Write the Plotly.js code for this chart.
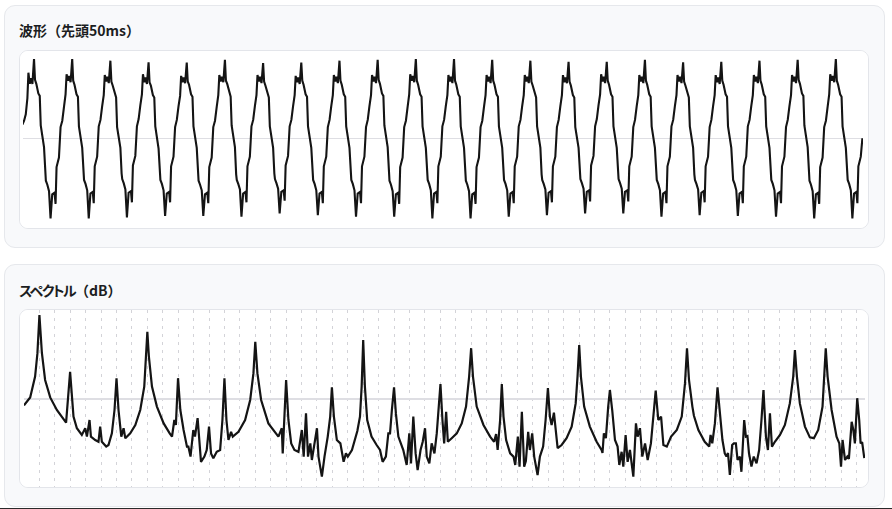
<!DOCTYPE html>
<html><head><meta charset="utf-8">
<script src="https://cdn.plot.ly/plotly-3.0.1.min.js"></script>
<style>
html,body{margin:0;padding:0;background:#fff;width:892px;height:509px;overflow:hidden;}
body{font-family:"Noto Sans CJK JP","Noto Sans",sans-serif;position:relative;}
.card{position:absolute;left:4px;width:881px;height:243px;background:#f8f9fb;border:1px solid #e6e8ec;border-radius:11px;box-sizing:border-box;}
.ttl{position:absolute;left:19px;font-size:14px;font-weight:700;color:#1b1d21;line-height:20px;white-space:nowrap;}
.kana{font-feature-settings:"palt" 1;letter-spacing:-1.6px;}
.box{position:absolute;left:19px;width:850px;height:179px;background:#fff;border:1px solid #e3e5ea;border-radius:9px;box-sizing:border-box;overflow:hidden;}
.plot{position:absolute;left:0;top:0;width:848px;height:177px;}
#bar{position:absolute;left:0;top:508px;width:892px;height:1px;background:#2a2a2a;}
</style></head>
<body>
<div class="card" style="top:5px"></div>
<div class="ttl" style="top:20px">波形（先頭50ms）</div>
<div class="box" style="top:50px"><div id="wave" class="plot"></div></div>
<div class="card" style="top:264px"></div>
<div class="ttl" style="top:280px"><span class="kana">スペクトル</span>（dB）</div>
<div class="box" style="top:309px"><div id="spec" class="plot"></div></div>
<div id="bar"></div>
<script>
// ---- waveform (first 50 ms), A4 = 440 Hz ----
const F0 = 440;                 // Hz
const WAVE_MS = 50;
const FIRST_CREST_MS = 0.656;   // time of first crest
// sample positions inside one period (fraction of period, from crest)
const phase = [0, 0.026, 0.060, 0.113, 0.150, 0.176, 0.262, 0.294, 0.310, 0.349, 0.393, 0.433,
               0.477, 0.538, 0.564, 0.590, 0.653, 0.695, 0.740, 0.784, 0.826, 0.853, 0.889, 0.916, 0.958];
// amplitude per cycle (row = one period, starting at the crest)
const waveCycles = [
 [null,null,null,null,null,null,null,null,null,null,null,null,null,null,null,null,null,0.17,0.22,0.30,0.50,0.82,0.68,0.75,0.68],
 [0.99,0.73,0.68,0.56,0.53,0.16,-0.11,-0.46,-0.53,-0.58,-0.66,-1.00,-0.70,-0.68,-0.82,-0.36,-0.24,0.14,0.22,0.39,0.55,0.80,0.72,0.78,0.70],
 [0.99,0.72,0.67,0.55,0.52,0.15,-0.12,-0.45,-0.52,-0.57,-0.65,-1.00,-0.69,-0.67,-0.81,-0.35,-0.23,0.15,0.23,0.40,0.54,0.79,0.71,0.77,0.69],
 [0.97,0.71,0.66,0.55,0.51,0.14,-0.12,-0.44,-0.51,-0.56,-0.64,-0.99,-0.68,-0.66,-0.80,-0.34,-0.22,0.15,0.24,0.41,0.55,0.80,0.70,0.76,0.68],
 [0.95,0.70,0.66,0.54,0.51,0.15,-0.13,-0.45,-0.52,-0.57,-0.65,-0.97,-0.69,-0.67,-0.80,-0.35,-0.23,0.14,0.23,0.40,0.53,0.78,0.70,0.76,0.69],
 [0.945,0.71,0.67,0.55,0.52,0.15,-0.12,-0.46,-0.53,-0.58,-0.65,-0.97,-0.70,-0.68,-0.81,-0.36,-0.24,0.14,0.22,0.39,0.54,0.79,0.71,0.77,0.70],
 [0.98,0.72,0.68,0.56,0.52,0.16,-0.11,-0.45,-0.52,-0.57,-0.64,-0.98,-0.69,-0.67,-0.80,-0.35,-0.23,0.15,0.23,0.40,0.54,0.79,0.71,0.77,0.69],
 [0.94,0.71,0.66,0.55,0.51,0.15,-0.12,-0.44,-0.51,-0.56,-0.63,-0.94,-0.67,-0.65,-0.78,-0.34,-0.22,0.15,0.23,0.40,0.54,0.78,0.70,0.76,0.68],
 [0.945,0.72,0.67,0.55,0.52,0.15,-0.12,-0.45,-0.52,-0.57,-0.65,-0.96,-0.69,-0.67,-0.81,-0.35,-0.23,0.14,0.23,0.40,0.54,0.79,0.71,0.77,0.69],
 [0.97,0.72,0.67,0.55,0.52,0.15,-0.12,-0.45,-0.52,-0.57,-0.65,-0.98,-0.69,-0.67,-0.81,-0.35,-0.23,0.14,0.23,0.40,0.54,0.79,0.71,0.77,0.69],
 [0.98,0.73,0.68,0.56,0.53,0.16,-0.11,-0.46,-0.53,-0.58,-0.66,-0.98,-0.70,-0.68,-0.82,-0.36,-0.24,0.14,0.22,0.39,0.55,0.80,0.72,0.78,0.70],
 [0.99,0.72,0.67,0.55,0.52,0.15,-0.12,-0.45,-0.52,-0.57,-0.65,-1.00,-0.69,-0.67,-0.81,-0.35,-0.23,0.15,0.23,0.40,0.54,0.79,0.71,0.77,0.69],
 [0.99,0.72,0.67,0.55,0.52,0.15,-0.12,-0.46,-0.53,-0.58,-0.66,-1.00,-0.70,-0.68,-0.82,-0.36,-0.24,0.14,0.22,0.39,0.54,0.79,0.71,0.77,0.69],
 [0.98,0.72,0.67,0.55,0.52,0.15,-0.12,-0.45,-0.52,-0.57,-0.65,-0.98,-0.69,-0.67,-0.81,-0.35,-0.23,0.15,0.23,0.40,0.54,0.79,0.71,0.77,0.69],
 [0.97,0.71,0.66,0.55,0.51,0.15,-0.12,-0.45,-0.52,-0.57,-0.64,-0.96,-0.68,-0.66,-0.80,-0.35,-0.23,0.14,0.23,0.40,0.54,0.79,0.70,0.76,0.69],
 [0.955,0.71,0.66,0.54,0.51,0.14,-0.12,-0.44,-0.51,-0.56,-0.63,-0.94,-0.67,-0.65,-0.79,-0.34,-0.22,0.15,0.24,0.41,0.55,0.80,0.71,0.77,0.69],
 [0.955,0.72,0.67,0.55,0.52,0.15,-0.12,-0.44,-0.51,-0.56,-0.63,-0.94,-0.67,-0.65,-0.79,-0.35,-0.23,0.14,0.23,0.40,0.54,0.79,0.71,0.77,0.69],
 [0.98,0.72,0.67,0.55,0.52,0.15,-0.12,-0.45,-0.52,-0.57,-0.65,-0.98,-0.69,-0.67,-0.81,-0.35,-0.23,0.15,0.23,0.40,0.54,0.79,0.71,0.77,0.69],
 [0.95,0.71,0.66,0.55,0.51,0.15,-0.12,-0.45,-0.52,-0.57,-0.64,-0.96,-0.68,-0.66,-0.80,-0.35,-0.23,0.14,0.23,0.40,0.54,0.79,0.70,0.76,0.68],
 [0.955,0.72,0.67,0.55,0.52,0.15,-0.12,-0.45,-0.52,-0.57,-0.65,-0.97,-0.69,-0.67,-0.81,-0.35,-0.23,0.15,0.23,0.40,0.54,0.79,0.71,0.77,0.69],
 [0.97,0.72,0.67,0.55,0.52,0.15,-0.12,-0.45,-0.52,-0.57,-0.65,-0.98,-0.69,-0.67,-0.81,-0.35,-0.23,0.14,0.23,0.40,0.54,0.79,0.71,0.77,0.69],
 [0.98,0.73,0.68,0.56,0.53,0.16,-0.11,-0.46,-0.53,-0.58,-0.66,-1.00,-0.70,-0.68,-0.82,-0.36,-0.24,0.14,0.22,0.39,0.55,0.80,0.72,0.78,0.70],
 [0.99,0.72,0.67,0.55,0.52,0.15,-0.12,-0.45,-0.52,-0.57,-0.65,-1.00,-0.69,-0.67,-0.81,-0.35,-0.23,0.00,null,null,null,null,null,null,null]
];

// ---- spectrum (dB), x in multiples of f0 (0 .. 24 kHz) ----
const SPEC_MAX_HARM = 24000 / F0;
// dashed markers at each harmonic of f0
const harmonicMarks = [1,2,3,4,5,6,7,8,9,10,11,12,13,14,15,16,17,18,19,20,21,22,23,24,25,26,27,
                       28,29,30,31,32,33,34,35,36,37,38,39,40,41,42,43,44,45,46,47,48,49,50,51,52,53,54];
const spectrum = [
 [0.0,-1.6],[0.40,0.4],[0.72,5.6],[0.87,11.4],[1.0,21],[1.16,11.5],[1.37,4.75],[1.70,0.4],[2.13,-2.75],[2.67,-5.7],[2.73,-5.9],
 [2.99,6.8],[3.10,0.6],[3.21,-4.4],[3.43,-7.3],[3.75,-9],[3.97,-7.3],[4.08,-9.4],[4.25,-5.25],[4.34,-9.4],[4.62,-10.25],[4.83,-10.7],
 [4.94,-6.9],[5.05,-10.7],[5.33,-11.9],[5.48,-11.5],[5.70,-8.6],[5.87,-2.75],[6.0,5.2],[6.13,-2.75],[6.31,-9.4],[6.46,-7.3],[6.57,-9.8],
 [6.89,-8.6],[7.22,-6.5],[7.54,-2.75],[7.80,3.1],[7.93,10.6],[8.0,16.8],[8.1,10.6],[8.30,3.1],[8.62,-1.9],[9.06,-6.1],[9.45,-8.6],
 [9.60,-9.4],[9.75,-5.25],[9.85,-6.5],[9.99,5.2],[10.14,-2.75],[10.35,-7.75],[10.57,-11.9],[10.66,-11.9],[10.8,-14.4],[10.98,-7.75],
 [11.09,-9.4],[11.26,-4.8],[11.37,-11.1],[11.48,-15.7],[11.70,-14.4],[11.85,-12.75],[12.0,-6.9],[12.13,-13.6],[12.28,-14.8],[12.50,-13.2],
 [12.72,-12.75],[12.87,-5.25],[13.0,5.2],[13.13,-5.25],[13.26,-10.25],[13.43,-8.2],[13.54,-9.4],[13.91,-8.2],[14.34,-5.25],[14.67,-0.25],
 [14.88,6.4],[15.0,14.3],[15.14,6.4],[15.38,-0.25],[15.85,-6.1],[16.50,-9.4],[16.72,-7.3],[16.78,-13.6],[17.0,4.75],[17.15,-5.25],
 [17.33,-11.1],[17.54,-12.75],[17.80,-13.2],[18.02,-7.75],[18.14,-14.4],[18.29,-3.6],[18.42,-14.4],[18.57,-11.1],[18.67,-15.25],[19.0,-7.3],
 [19.10,-14.4],[19.32,-19.4],[19.49,-14.4],[19.70,-9.4],[19.86,-4.4],[19.97,2.9],[20.1,-4.4],[20.29,-10.25],[20.52,-11.1],[20.73,-15.7],
 [20.88,-13.6],[21.0,-14.4],[21.27,-12.75],[21.49,-9.4],[21.62,-8.0],[21.79,-4.4],[21.90,3.1],[22.0,14.75],[22.11,3.1],[22.26,-5.25],
 [22.54,-9.4],[22.87,-11.5],[23.09,-12.75],[23.26,-15.7],[23.47,-14.4],[23.63,-8.6],[23.74,-8.6],[23.86,-2.75],[24.0,2.9],[24.12,-3.6],
 [24.28,-9.4],[24.6,-12.75],[24.82,-16.5],[24.99,-8.6],[25.1,-16.1],[25.25,-4.4],[25.4,-13.6],[25.53,-17.75],[25.72,-12.75],[25.86,-10.7],
 [26.01,-7.3],[26.12,-14.4],[26.29,-16.1],[26.44,-11.1],[26.62,-13.6],[26.77,-8.6],[26.88,-2.75],[27.01,3.75],[27.14,-5.25],[27.25,-11.1],
 [27.38,-3.2],[27.49,-10.7],[27.74,-9.8],[28.07,-8.6],[28.39,-6.1],[28.67,-1.9],[28.87,5.6],[29.0,12.7],[29.12,5.6],[29.36,-1.9],
 [29.80,-6.5],[30.23,-9.4],[30.49,-10.7],[30.62,-8.75],[30.72,-12.75],[30.88,-5.25],[30.99,3.75],[31.1,-4.4],[31.27,-10.25],[31.53,-13.6],
 [31.75,-14.4],[31.86,-16.5],[32.03,-9.4],[32.14,-16.9],[32.29,-3.2],[32.44,-16.9],[32.55,-15.5],[32.7,-8.2],[32.81,-12.75],[32.96,-8.6],
 [33.09,-14.4],[33.31,-19],[33.46,-14.4],[33.67,-11.9],[33.83,-5.25],[33.98,2.7],[34.11,-4.4],[34.22,-6.5],[34.37,-3.4],[34.5,-9.4],
 [34.61,-12.3],[34.87,-11.5],[35.19,-9.8],[35.52,-6.9],[35.78,-1.1],[35.90,5.6],[36.01,13.5],[36.12,5.6],[36.33,-1.9],[36.7,-6.9],
 [37.14,-10.7],[37.46,-12.75],[37.52,-13.5],[37.61,-8.6],[37.74,-9.8],[37.89,-1.9],[38.0,2.25],[38.15,-2.75],[38.33,-10.25],[38.5,-11.9],
 [38.61,-16.5],[38.76,-13.2],[38.87,-16.9],[39.02,-9],[39.15,-15.7],[39.3,-12.75],[39.52,-19.4],[39.69,-6.1],[39.8,-9.4],[39.95,-7.3],
 [40.1,-14.4],[40.28,-11.1],[40.45,-15.25],[40.66,-11.1],[40.81,-4.4],[40.97,2.1],[41.14,-5.25],[41.32,-4.4],[41.47,-11.5],[41.69,-11.9],
 [41.97,-9.4],[42.34,-7.75],[42.66,-4.4],[42.87,3.9],[43.0,12.7],[43.13,4.75],[43.35,-1.9],[43.45,-4.2],[43.74,-7.75],[44.15,-10.7],
 [44.44,-11.9],[44.53,-9],[44.64,-11.1],[44.81,-6.1],[44.98,2.9],[45.14,-4.4],[45.3,-10.25],[45.45,-13.6],[45.56,-14.4],[45.66,-13.5],
 [45.78,-19],[45.93,-11.5],[46.04,-11.1],[46.17,-11.1],[46.28,-15.25],[46.43,-14.4],[46.53,-18.2],[46.71,-5.25],[46.82,-9.4],[46.92,-9.25],
 [47.02,-13.5],[47.18,-16.9],[47.33,-14.4],[47.51,-16.1],[47.68,-12.75],[47.83,-5.25],[47.96,2.25],[48.12,-9.4],[48.25,-12.75],[48.38,-3.6],
 [48.51,-11.9],[48.7,-10.7],[49.03,-9],[49.35,-6.5],[49.67,-1.1],[49.89,5.6],[50.0,12.25],[50.13,5.6],[50.32,-1.1],[50.65,-6.9],
 [50.97,-9.6],[51.23,-9.8],[51.51,-7.75],[51.79,-1.9],[51.9,5.6],[52.0,12.7],[52.12,5.6],[52.38,-2.75],[52.7,-9.4],[52.88,-11.1],
 [52.99,-16.9],[53.09,-10.25],[53.25,-15.25],[53.4,-14.4],[53.5,-15],[53.68,-5.7],[53.79,-7.75],[53.89,-11.1],[54.04,0.2],[54.17,-5.25],
 [54.26,-11.1],[54.36,-10.8],[54.5,-14.8]
];

// ---- build traces ----
const periodMs = 1000 / F0;
const wx = [], wy = [];
waveCycles.forEach((row, i) => {
  const k = i - 1;
  row.forEach((v, j) => {
    if (v === null) return;
    wx.push(FIRST_CREST_MS + (k + phase[j]) * periodMs);
    wy.push(v);
  });
});
const sx = spectrum.map(p => p[0]);
const sy = spectrum.map(p => p[1]);

const cfg = {displayModeBar:false, staticPlot:true, responsive:false};
const ax0 = {showticklabels:false, ticks:'', showline:false, fixedrange:true};

Plotly.newPlot('wave', [{
  x: wx, y: wy, type:'scatter', mode:'lines',
  line:{color:'#141414', width:2.1}, hoverinfo:'skip'
}], {
  width:848, height:177,
  margin:{l:3, r:5, t:0, b:0, pad:0},
  paper_bgcolor:'#ffffff', plot_bgcolor:'#ffffff', showlegend:false,
  xaxis:Object.assign({}, ax0, {range:[0, WAVE_MS], showgrid:false, zeroline:false}),
  yaxis:Object.assign({}, ax0, {range:[-1.121, 1.091], showgrid:false, zeroline:true, zerolinecolor:'#dedee3', zerolinewidth:1.3})
}, cfg);

Plotly.newPlot('spec', [{
  x: sx, y: sy, type:'scatter', mode:'lines',
  line:{color:'#141414', width:2.2}, hoverinfo:'skip'
}], {
  width:848, height:177,
  margin:{l:4, r:3, t:0, b:0, pad:0},
  paper_bgcolor:'#ffffff', plot_bgcolor:'#ffffff', showlegend:false,
  xaxis:Object.assign({}, ax0, {range:[0, SPEC_MAX_HARM], showgrid:true, tickmode:'array', tickvals:harmonicMarks,
        gridcolor:'#d3d3d8', gridwidth:1, griddash:'3px,5px', zeroline:false}),
  yaxis:Object.assign({}, ax0, {range:[-22.0, 22.25], showgrid:false, zeroline:true, zerolinecolor:'#dedee3', zerolinewidth:1.3})
}, cfg);
</script>
</body></html>
